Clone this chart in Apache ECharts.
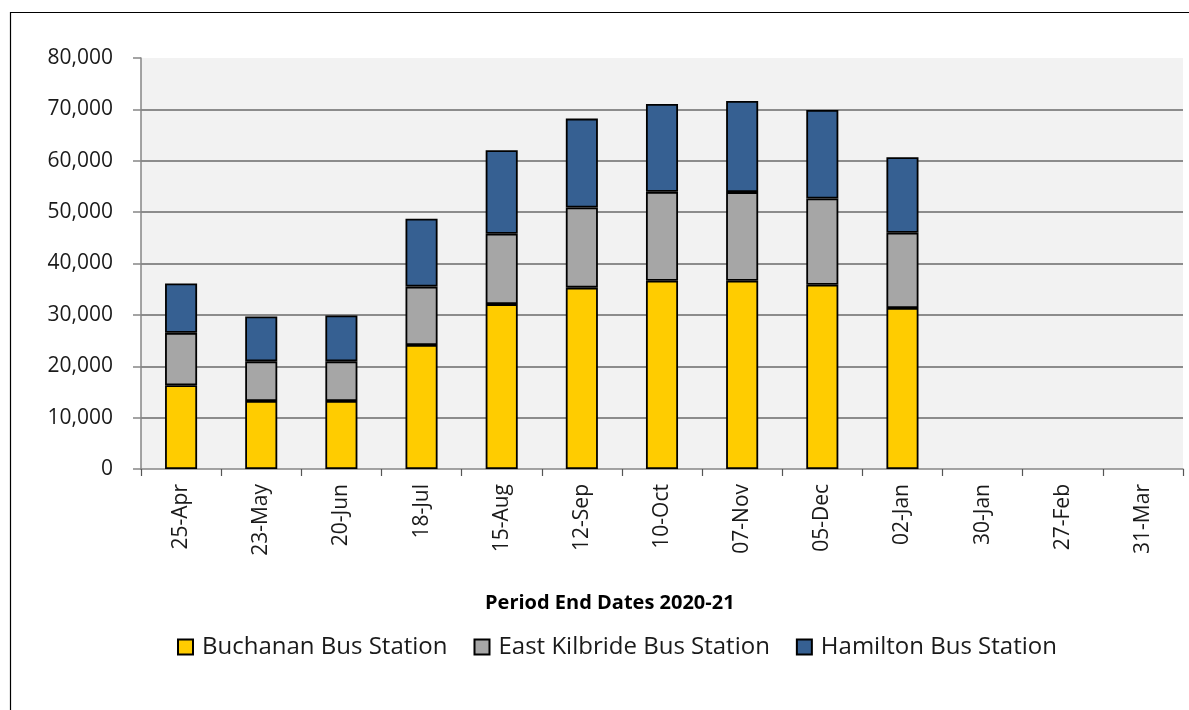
<!DOCTYPE html>
<html>
<head>
<meta charset="utf-8">
<script src="https://cdn.jsdelivr.net/npm/echarts@6/dist/echarts.min.js"></script>
<style>
  html, body { margin: 0; padding: 0; background: #ffffff; }
  #chart { width: 1189px; height: 710px; }
</style>
</head>
<body>
<div id="chart"></div>
<script>
// Four-weekly period end dates for the 2020-21 year
const categories = ['25-Apr', '23-May', '20-Jun', '18-Jul', '15-Aug', '12-Sep', '10-Oct',
                    '07-Nov', '05-Dec', '02-Jan', '30-Jan', '27-Feb', '31-Mar'];

// Passenger counts per station (periods not yet reported are null)
const buchanan     = [16300, 13250, 13250, 24150, 32100, 35300, 36650, 36650, 35850, 31350, null, null, null];
const eastKilbride = [10200,  7700,  7700, 11350, 13700, 15600, 17300, 17250, 16800, 14650, null, null, null];
const hamilton     = [ 9600,  8750,  8950, 13200, 16250, 17300, 17100, 17750, 17250, 14700, null, null, null];

const seriesNames = ['Buchanan Bus Station', 'East Kilbride Bus Station', 'Hamilton Bus Station'];
const seriesColors = ['#ffcc00', '#a6a6a6', '#366092'];
const axisTitle = 'Period End Dates 2020-21';

const FONT = '"Open Sans", "DejaVu Sans", sans-serif';

const chart = echarts.init(document.getElementById('chart'), null, { renderer: 'canvas' });

function barSeries(name, data, color) {
  return {
    name: name,
    type: 'bar',
    stack: 'total',
    data: data,
    barWidth: '40%',
    itemStyle: { color: color, borderColor: '#000000', borderWidth: 1.8 },
    emphasis: { disabled: true }
  };
}

chart.setOption({
  animation: false,
  backgroundColor: '#ffffff',
  grid: {
    left: 141, top: 58, width: 1042, height: 411,
    show: true, backgroundColor: '#f2f2f2', borderWidth: 0
  },
  legend: {
    left: 172, top: 630,
    icon: 'rect', itemWidth: 15, itemHeight: 15, itemGap: 26,
    textStyle: { fontFamily: FONT, fontSize: 24, color: '#1a1a1a', padding: [0, 0, 0, 4] },
    data: seriesNames
  },
  xAxis: {
    type: 'category',
    data: categories,
    axisLine: { show: true, lineStyle: { color: '#868686', width: 1.5 } },
    axisTick: { show: true, length: 7, alignWithLabel: false, lineStyle: { color: '#555555', width: 1.2 } },
    axisLabel: {
      rotate: 90, margin: 15, interval: 0,
      fontFamily: FONT, fontSize: 21, color: '#1a1a1a'
    },
    splitLine: { show: false }
  },
  yAxis: {
    type: 'value',
    min: 0, max: 80000, interval: 10000,
    axisLine: { show: true, lineStyle: { color: '#868686', width: 1.5 } },
    axisTick: { show: true, length: 8, lineStyle: { color: '#868686', width: 1.5 } },
    axisLabel: {
      margin: 28, fontFamily: FONT, fontSize: 21, color: '#1a1a1a',
      formatter: v => v.toLocaleString('en-GB')
    },
    splitLine: { show: true, showMaxLine: false, showMinLine: false, lineStyle: { color: '#8c8c8c', width: 2 } }
  },
  graphic: [
    {
      type: 'rect', silent: true,
      shape: { x: 10.5, y: 12.5, width: 1300, height: 800 },
      style: { fill: null, stroke: '#000000', lineWidth: 1.2 }
    },
    {
      type: 'text', silent: true,
      left: 485, top: 593,
      style: { text: axisTitle, fontFamily: FONT, fontWeight: 'bold', fontSize: 20, fill: '#000000' }
    }
  ],
  series: [
    barSeries(seriesNames[0], buchanan, seriesColors[0]),
    barSeries(seriesNames[1], eastKilbride, seriesColors[1]),
    barSeries(seriesNames[2], hamilton, seriesColors[2])
  ]
});
</script>
</body>
</html>
